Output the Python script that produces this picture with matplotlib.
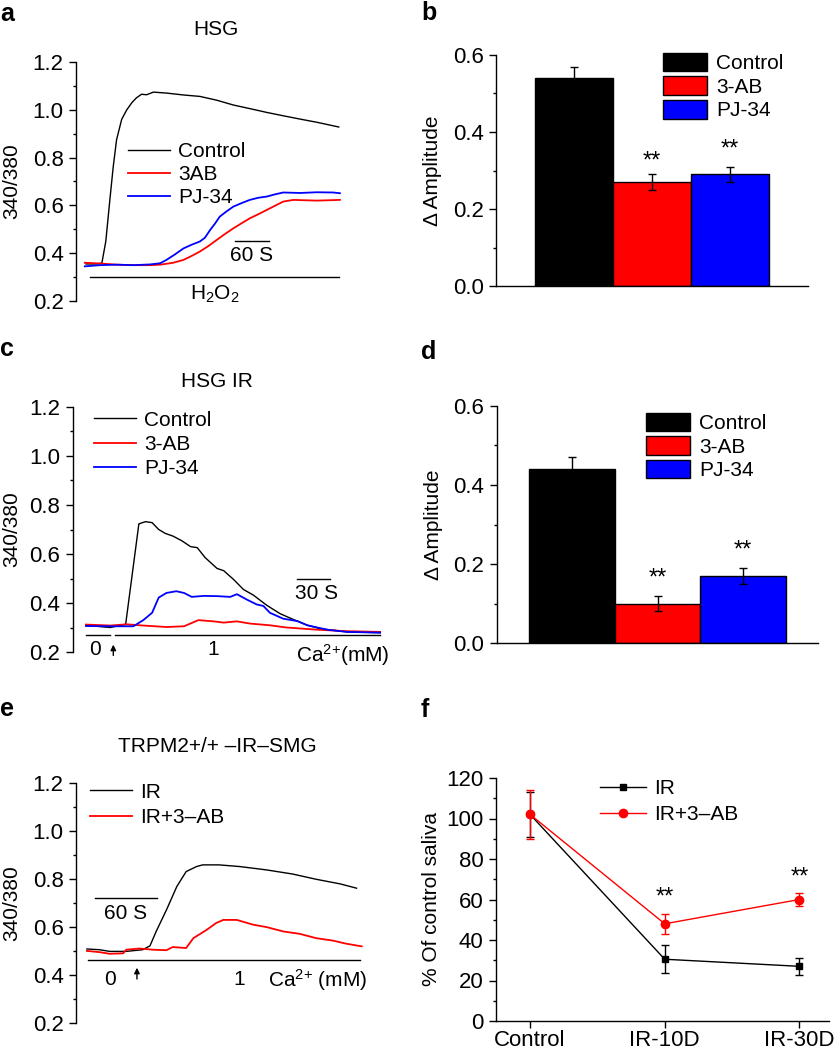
import matplotlib
matplotlib.use('Agg')
import matplotlib.pyplot as plt
from matplotlib.ticker import MultipleLocator, FormatStrFormatter

plt.rcParams['font.family'] = ['Liberation Sans', 'DejaVu Sans']
plt.rcParams['mathtext.fontset'] = 'custom'
plt.rcParams['mathtext.rm'] = 'Liberation Sans'
plt.rcParams['mathtext.it'] = 'Liberation Sans:italic'
plt.rcParams['font.size'] = 15

FS = 15     # text
TFS = 16    # tick labels

# ---- data ----
# panel a: HSG, H2O2 (time in s, ratio 340/380)
a_ctrl_t = [0, 19, 28, 35, 42, 48, 54, 63, 72, 81, 89, 98, 107, 119, 142, 172, 201, 231,
            260, 289, 319, 348, 378, 407, 446]
a_ctrl_v = [0.355, 0.355, 0.358, 0.45, 0.62, 0.76, 0.875, 0.96, 1.0, 1.03, 1.05, 1.065, 1.063,
            1.074, 1.07, 1.062, 1.056, 1.04, 1.02, 1.005, 0.989, 0.975, 0.961, 0.948, 0.928]
a_pj_t = [-2, 25, 54, 84, 113, 131, 142, 157, 172, 186, 201, 210, 219, 228, 236, 248, 260,
          275, 289, 304, 319, 333, 348, 378, 407, 436, 448]
a_pj_v = [0.345, 0.35, 0.352, 0.35, 0.353, 0.358, 0.372, 0.395, 0.42, 0.435, 0.449, 0.465,
          0.497, 0.525, 0.553, 0.575, 0.595, 0.61, 0.623, 0.632, 0.637, 0.646, 0.654, 0.652,
          0.655, 0.654, 0.651]
a_3ab_t = [-2, 25, 54, 84, 113, 131, 154, 172, 186, 201, 216, 231, 245, 260, 275, 289, 304,
           319, 333, 348, 366, 407, 448]
a_3ab_v = [0.36, 0.357, 0.352, 0.35, 0.35, 0.352, 0.36, 0.372, 0.388, 0.407, 0.43, 0.456,
           0.48, 0.504, 0.526, 0.546, 0.563, 0.581, 0.598, 0.616, 0.623, 0.62, 0.623]

# panel c: HSG IR, Ca2+
c_ctrl_t = [0, 22, 36, 48, 54, 60, 66, 72, 79, 87, 95, 101, 108, 119, 125, 134, 143, 152,
            164, 176, 185, 201, 213, 237, 267]
c_ctrl_v = [0.309, 0.30, 0.313, 0.723, 0.732, 0.728, 0.70, 0.684, 0.673, 0.654, 0.63, 0.626,
            0.586, 0.541, 0.532, 0.496, 0.455, 0.432, 0.391, 0.357, 0.339, 0.309, 0.295,
            0.282, 0.279]
c_pj_t = [0, 22, 43, 52, 60, 66, 73, 82, 89, 96, 107, 119, 131, 137, 146, 155, 161, 167,
          179, 192, 201, 219, 237, 267]
c_pj_v = [0.306, 0.305, 0.305, 0.33, 0.36, 0.422, 0.441, 0.448, 0.441, 0.425, 0.429, 0.428,
          0.425, 0.436, 0.414, 0.394, 0.388, 0.36, 0.336, 0.326, 0.309, 0.291, 0.282, 0.279]
c_3ab_t = [0, 22, 37, 52, 73, 89, 102, 116, 125, 137, 149, 167, 182, 210, 237, 267]
c_3ab_v = [0.312, 0.308, 0.313, 0.308, 0.302, 0.305, 0.33, 0.325, 0.32, 0.325, 0.316, 0.309,
           0.30, 0.291, 0.285, 0.282]

# panel e: TRPM2+/+ IR SMG
e_ir_t = [0, 12, 22, 38, 54, 61, 67, 77, 87, 96, 106, 112, 128, 148, 174, 199, 222, 245, 261]
e_ir_v = [0.508, 0.505, 0.498, 0.498, 0.505, 0.521, 0.581, 0.671, 0.768, 0.83, 0.851, 0.858,
          0.858, 0.851, 0.837, 0.82, 0.798, 0.779, 0.761]
e_3ab_t = [0, 12, 22, 35, 38, 51, 64, 77, 83, 96, 103, 116, 125, 132, 145, 161, 174, 190,
           206, 222, 238, 251, 266]
e_3ab_v = [0.50, 0.495, 0.488, 0.49, 0.505, 0.51, 0.505, 0.503, 0.516, 0.512, 0.553, 0.588,
           0.616, 0.629, 0.629, 0.609, 0.599, 0.581, 0.571, 0.553, 0.543, 0.53, 0.519]

# bar panels
bar_labels = ['Control', '3-AB', 'PJ-34']
bar_colors = ['#000000', '#ff0000', '#0000ff']
b_vals = [0.54, 0.27, 0.29]
b_err = [0.03, 0.02, 0.02]
d_vals = [0.44, 0.10, 0.17]
d_err = [0.03, 0.02, 0.02]

# panel f
f_groups = ['Control', 'IR-10D', 'IR-30D']
f_ir = [102, 30.5, 27]
f_ir_err = [11, 7, 4.3]
f_3ab = [102, 48, 60]
f_3ab_err = [12, 5, 3.2]

W, H = 834, 1050
fig = plt.figure(figsize=(W / 100, H / 100), dpi=100)


def box(l, t, r, b):
    return [l / W, 1 - b / H, (r - l) / W, (b - t) / H]


def style_ticks(ax):
    ax.tick_params(which='major', direction='out', length=5, width=1, pad=4, labelsize=TFS)
    ax.tick_params(which='minor', direction='out', length=2.5, width=1)
    for s in ax.spines.values():
        s.set_linewidth(1)


def trace_axes(ax):
    for s in ['top', 'right', 'bottom']:
        ax.spines[s].set_visible(False)
    ax.set_ylim(0.2, 1.2)
    ax.yaxis.set_major_locator(MultipleLocator(0.2))
    ax.yaxis.set_minor_locator(MultipleLocator(0.1))
    ax.yaxis.set_major_formatter(FormatStrFormatter('%.1f'))
    ax.set_xticks([])
    style_ticks(ax)
    ax.set_ylabel('340/380', fontsize=FS)


def arrow(ax, x, y0, y1):
    ax.annotate('', xy=(x, y1), xytext=(x, y0), annotation_clip=False,
                arrowprops=dict(arrowstyle='-|>', color='black', lw=1, mutation_scale=8,
                                shrinkA=0, shrinkB=0))


def bar_axes(ax, vals, errs, star_y):
    x = [1, 2, 3]
    for i in range(3):
        ax.bar(x[i], vals[i], width=1, color=bar_colors[i], edgecolor='black',
               linewidth=1, label=bar_labels[i], zorder=2)
    ax.errorbar(x, vals, yerr=errs, fmt='none', ecolor='black', elinewidth=1,
                capsize=3, capthick=1, zorder=3)
    for i in [1, 2]:
        ax.text(x[i], star_y[i - 1], '**', ha='center', va='center', fontsize=17)
    for s in ['top', 'right']:
        ax.spines[s].set_visible(False)
    ax.set_ylim(0, 0.6)
    ax.yaxis.set_major_locator(MultipleLocator(0.2))
    ax.yaxis.set_minor_locator(MultipleLocator(0.1))
    ax.yaxis.set_major_formatter(FormatStrFormatter('%.1f'))
    ax.set_xticks([])
    style_ticks(ax)
    ax.set_ylabel('Δ Amplitude', fontsize=FS)


leg_line = dict(frameon=False, fontsize=FS, handlelength=2.0, handletextpad=0.4,
                labelspacing=0.2, borderpad=0, borderaxespad=0)
leg_bar = dict(frameon=False, fontsize=FS, handlelength=2.1, handleheight=1.0,
               handletextpad=0.45, labelspacing=0.15, borderpad=0, borderaxespad=0)

# ---- a ----
ax = fig.add_axes(box(76, 62, 345, 301))
trace_axes(ax)
ax.set_xlim(-17.6, 457)
ax.plot(a_ctrl_t, a_ctrl_v, color='black', lw=1, label='Control')
ax.plot(a_3ab_t, a_3ab_v, color='#ff0000', lw=1.3, label='3AB')
ax.plot(a_pj_t, a_pj_v, color='#0000ff', lw=1.3, label='PJ-34')
ax.plot([7, 446], [0.302, 0.302], color='black', lw=1)
ax.text(228, 0.228, 'H$_2$O$_2$', ha='center', va='center', fontsize=FS)
ax.plot([263, 323], [0.453, 0.453], color='black', lw=1)
ax.text(293, 0.39, '60 S', ha='center', va='center', fontsize=FS)
ax.legend(loc='upper left', bbox_to_anchor=(0.195, 0.665), **leg_line)
ax.yaxis.set_label_coords(-0.204, 0.5)
ax.text(0.52, 1.135, 'HSG', transform=ax.transAxes, ha='center', va='center', fontsize=FS)

# ---- b ----
ax = fig.add_axes(box(496, 55, 808, 286))
bar_axes(ax, b_vals, b_err, [0.323, 0.355])
ax.set_xlim(0, 4)
ax.legend(loc='upper left', bbox_to_anchor=(0.535, 1.01), **leg_bar)
ax.yaxis.set_label_coords(-0.173, 0.5)

# ---- c ----
ax = fig.add_axes(box(73, 407, 390, 652))
trace_axes(ax)
ax.set_xlim(-11.8, 276)
ax.plot(c_ctrl_t, c_ctrl_v, color='black', lw=1, label='Control')
ax.plot(c_3ab_t, c_3ab_v, color='#ff0000', lw=1.3, label='3-AB')
ax.plot(c_pj_t, c_pj_v, color='#0000ff', lw=1.3, label='PJ-34')
ax.plot([0, 21.8], [0.268, 0.268], color='black', lw=1)
ax.plot([26.4, 266.6], [0.268, 0.268], color='black', lw=1)
arrow(ax, 24.8, 0.186, 0.23)
ax.text(8.2, 0.212, '0', ha='center', va='center', fontsize=FS)
ax.text(115.7, 0.212, '1', ha='center', va='center', fontsize=FS)
ax.text(233, 0.186, 'Ca$^{2{+}}$(mM)', ha='center', va='center', fontsize=FS)
ax.plot([191.5, 221.8], [0.496, 0.496], color='black', lw=1)
ax.text(209.7, 0.439, '30 S', ha='center', va='center', fontsize=FS)
ax.legend(loc='upper left', bbox_to_anchor=(0.066, 0.985), frameon=False, fontsize=FS,
          handlelength=2.0, handletextpad=0.4, labelspacing=0.25, borderpad=0, borderaxespad=0)
ax.yaxis.set_label_coords(-0.164, 0.5)
ax.text(0.454, 1.105, 'HSG IR', transform=ax.transAxes, ha='center', va='center', fontsize=FS)

# ---- d ----
ax = fig.add_axes(box(497, 406, 818, 643))
bar_axes(ax, d_vals, d_err, [0.163, 0.235])
ax.set_xlim(0.123, 3.877)
ax.legend(loc='upper left', bbox_to_anchor=(0.464, 0.972), **leg_bar)
ax.yaxis.set_label_coords(-0.168, 0.5)

# ---- e ----
ax = fig.add_axes(box(76, 782.7, 370, 1023))
trace_axes(ax)
ax.set_xlim(-10.6, 274)
ax.plot(e_ir_t, e_ir_v, color='black', lw=1, label='IR')
ax.plot(e_3ab_t, e_3ab_v, color='#ff0000', lw=1.3, label='IR+3\u2013AB')
ax.plot([1, 264], [0.463, 0.463], color='black', lw=1)
arrow(ax, 48.4, 0.383, 0.43)
ax.text(21.9, 0.38, '0', ha='center', va='center', fontsize=FS)
ax.text(147, 0.38, '1', ha='center', va='center', fontsize=FS)
ax.text(223, 0.38, 'Ca$^{2{+}}$ (mM)', ha='center', va='center', fontsize=FS)
ax.plot([8.1, 68.1], [0.719, 0.719], color='black', lw=1)
ax.text(37.4, 0.657, '60 S', ha='center', va='center', fontsize=FS)
ax.legend(loc='upper left', bbox_to_anchor=(0.048, 1.0), frameon=False, fontsize=FS,
          handlelength=2.0, handletextpad=0.4, labelspacing=0.3, borderpad=0, borderaxespad=0)
ax.yaxis.set_label_coords(-0.187, 0.5)
ax.text(0.48, 1.15, 'TRPM2+/+ \u2013IR\u2013SMG', transform=ax.transAxes, ha='center',
        va='center', fontsize=FS)

# ---- f ----
ax = fig.add_axes(box(496, 778, 829, 1021))
xs = [0, 1, 2]
ax.errorbar(xs, f_ir, yerr=f_ir_err, fmt='none', ecolor='black', elinewidth=1,
            capsize=3, capthick=1)
ax.plot(xs, f_ir, color='black', lw=1, marker='s', ms=5, label='IR')
ax.errorbar(xs, f_3ab, yerr=f_3ab_err, fmt='none', ecolor='#ff0000', elinewidth=1,
            capsize=3, capthick=1)
ax.plot(xs, f_3ab, color='#ff0000', lw=1, marker='o', ms=6, label='IR+3\u2013AB')
ax.text(1, 61, '**', ha='center', va='center', fontsize=17)
ax.text(2, 71, '**', ha='center', va='center', fontsize=17)
for s in ['top', 'right']:
    ax.spines[s].set_visible(False)
ax.set_xlim(-0.253, 2.22)
ax.set_ylim(0, 120)
ax.yaxis.set_major_locator(MultipleLocator(20))
ax.yaxis.set_minor_locator(MultipleLocator(10))
ax.set_xticks(xs)
ax.set_xticklabels(f_groups)
style_ticks(ax)
ax.tick_params(axis='x', pad=1.5)
ax.set_ylabel('% Of control saliva', fontsize=FS)
ax.yaxis.set_label_coords(-0.165, 0.5)
ax.legend(loc='upper left', bbox_to_anchor=(0.312, 0.996), frameon=False, fontsize=FS,
          handlelength=2.2, handletextpad=0.4, labelspacing=0.35, borderpad=0, borderaxespad=0)

# panel letters
for lab, x, y in [('a', 0, 14), ('b', 421, 13), ('c', 0, 349), ('d', 421, 352),
                  ('e', 0, 709), ('f', 421, 710)]:
    fig.text(x / W, 1 - y / H, lab, fontsize=18, fontweight='bold', ha='left', va='center')

fig.savefig('out.png', dpi=100)
